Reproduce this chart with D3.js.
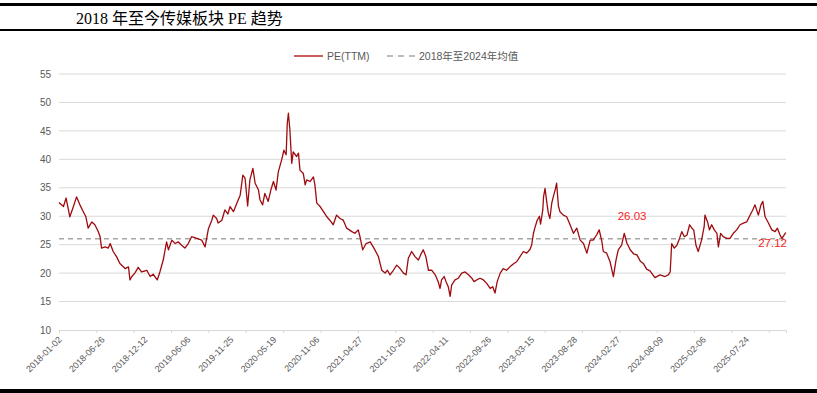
<!DOCTYPE html>
<meta charset="utf-8">
<script src="https://d3js.org/d3.v7.min.js"></script>
<style>
  body { margin: 0; background: #fff; }
  svg text { font-family: "Liberation Sans", Arial, "Noto Sans CJK SC", sans-serif; }
</style>
<div id="chart"></div>
<script>
// x axis: trading-day index, a label every 115 days, a tick mark every 100
var labelDates = ["2018-01-02","2018-06-26","2018-12-12","2019-06-06","2019-11-25",
  "2020-05-19","2020-11-06","2021-04-27","2021-10-20","2022-04-11","2022-09-26",
  "2023-03-15","2023-08-28","2024-02-27","2024-08-09","2025-02-06","2025-07-24"];
var labelStep = 115, tickStep = 100, lastDay = 1946;
var yTicks = [10, 15, 20, 25, 30, 35, 40, 45, 50, 55];

// PE(TTM): trading-day index and value
var dayIdx = [0,12,19,29,37,47,56,65,72,78,88,96,105,110,114,123,132,137,145,154,163,177,186,190,195,203,212,221,235,244,252,263,270,279,288,293,302,311,319,328,337,346,355,369,382,391,400,409,413,422,426,436,444,452,458,467,476,485,492,498,505,511,519,525,534,538,545,551,560,567,574,581,587,596,602,608,611,614,618,623,627,636,641,645,654,659,663,672,681,685,690,699,708,717,725,734,743,752,761,770,784,792,801,806,813,822,833,843,855,864,873,879,886,895,904,913,922,929,935,944,953,962,968,975,982,989,998,1007,1015,1020,1024,1031,1036,1042,1047,1051,1060,1069,1078,1087,1096,1105,1111,1118,1127,1136,1145,1154,1161,1167,1173,1181,1189,1198,1207,1216,1225,1234,1243,1252,1261,1265,1270,1274,1280,1286,1289,1295,1297,1301,1306,1310,1314,1319,1323,1328,1332,1337,1341,1350,1359,1368,1377,1386,1395,1404,1413,1422,1430,1439,1446,1453,1457,1466,1475,1484,1491,1497,1506,1513,1520,1529,1538,1547,1556,1564,1573,1582,1595,1609,1622,1631,1636,1640,1647,1654,1661,1667,1674,1681,1688,1694,1699,1705,1711,1720,1727,1729,1736,1741,1747,1754,1761,1765,1771,1778,1787,1796,1805,1814,1823,1832,1841,1850,1857,1863,1872,1879,1884,1890,1899,1908,1917,1923,1930,1935,1944,1946];
var peVals = [32.4,31.7,33.2,29.9,31.4,33.4,32.0,30.8,29.9,27.9,29.0,28.5,27.3,26.4,24.4,24.6,24.4,25.2,23.8,22.9,21.7,20.8,21.1,18.8,19.4,20.0,21.0,20.2,20.5,19.4,19.8,18.8,20.2,22.3,25.5,24.1,25.8,25.2,25.5,24.9,24.4,25.2,26.4,26.1,25.8,24.6,27.8,29.3,30.2,29.6,28.8,29.3,31.1,30.4,31.7,30.8,32.3,33.7,37.2,36.7,31.8,36.4,38.4,35.8,34.6,32.9,32.0,34.0,32.6,34.6,36.1,34.6,37.8,39.9,41.6,40.8,46.3,48.1,45.2,39.3,41.3,40.5,41.1,38.1,37.5,35.5,36.4,36.1,36.9,35.5,32.3,31.7,30.8,29.9,29.3,28.5,30.2,29.6,29.3,27.9,27.3,27.0,27.6,26.3,24.1,25.2,25.5,24.4,22.9,20.5,20.0,20.5,19.7,20.5,21.4,20.8,20.0,19.7,22.6,23.8,22.9,22.3,23.2,24.1,22.9,20.5,20.5,19.7,18.5,17.3,18.8,19.4,18.5,17.6,15.9,17.9,18.8,19.1,20.0,20.2,19.7,19.1,18.5,18.8,19.1,18.8,18.2,17.3,17.6,16.5,18.5,20.0,20.8,20.5,21.1,21.6,22.0,22.9,23.8,23.5,24.2,24.9,27.0,28.0,29.3,30.0,28.6,31.1,33.4,34.9,32.3,30.5,29.6,32.3,33.4,34.6,35.8,31.7,30.8,30.2,29.9,28.5,27.0,27.9,25.8,25.2,23.5,25.8,25.8,26.7,27.6,25.6,23.8,23.5,22.0,19.4,22.3,24.1,24.9,27.0,25.3,24.1,23.4,23.2,22.1,21.7,20.7,20.4,19.2,19.7,19.4,19.7,20.2,25.2,24.4,24.9,26.1,27.3,26.4,26.7,28.5,27.9,27.6,24.9,23.8,25.8,28.2,30.2,29.0,27.6,28.5,27.6,27.0,24.6,27.0,26.4,26.1,26.1,27.0,27.6,28.5,28.8,29.0,30.2,31.1,32.0,30.2,32.0,32.6,29.9,28.8,27.6,27.3,27.9,26.7,26.1,27.0,27.12];
var meanPE = 26.03;   // 2018-2024 average
var lastPE = 27.12;

var W = 817, H = 393;
var margin = {top: 74, right: 31, bottom: 63, left: 59},
    width = W - margin.left - margin.right,
    height = H - margin.top - margin.bottom;

var svg = d3.select("#chart").append("svg")
  .attr("width", W).attr("height", H);

// frame lines and title
svg.append("rect").attr("x", 0).attr("y", 3).attr("width", W).attr("height", 3).attr("fill", "#000");
svg.append("rect").attr("x", 0).attr("y", 29).attr("width", W).attr("height", 2).attr("fill", "#000");
svg.append("rect").attr("x", 0).attr("y", 389).attr("width", W).attr("height", 4).attr("fill", "#000");
svg.append("text")
  .attr("x", 76).attr("y", 24)
  .style("font-family", "'Liberation Serif', 'Times New Roman', 'Noto Sans CJK SC', serif")
  .style("font-size", "16px").attr("fill", "#000")
  .text("2018 年至今传媒板块 PE 趋势");

var g = svg.append("g")
  .attr("transform", "translate(" + margin.left + "," + margin.top + ")");

var x = d3.scaleLinear().domain([0, lastDay]).range([0, width]);
var y = d3.scaleLinear().domain([10, 55]).range([height, 0]);

// grid
g.append("g").selectAll("line")
  .data(yTicks.slice(1))
  .enter().append("line")
    .attr("x1", 0).attr("x2", width)
    .attr("y1", function(d) { return y(d); })
    .attr("y2", function(d) { return y(d); })
    .attr("stroke", "#d9d9d9").attr("stroke-width", 1);

// Y axis labels
var yAxis = g.append("g")
  .call(d3.axisLeft(y).tickValues(yTicks).tickSize(0).tickPadding(8));
yAxis.select(".domain").remove();
yAxis.selectAll("text").attr("fill", "#595959").style("font-size", "10px");

// X axis
var xAxis = g.append("g")
  .attr("transform", "translate(0," + height + ")")
  .call(d3.axisBottom(x).tickValues(d3.range(0, lastDay, tickStep)).tickSize(3).tickFormat(""));
xAxis.select(".domain").attr("stroke", "#d9d9d9");
xAxis.selectAll(".tick line").attr("stroke", "#d9d9d9");

g.append("g").selectAll("text")
  .data(labelDates)
  .enter().append("text")
    .attr("transform", function(d, i) {
      return "translate(" + (x(i * labelStep) + 1) + "," + (height + 8) + ") rotate(-45)";
    })
    .attr("text-anchor", "end")
    .attr("dy", "0.35em")
    .attr("fill", "#595959")
    .style("font-size", "9px")
    .text(function(d) { return d; });

// mean line
g.append("line")
  .attr("x1", 0).attr("x2", width)
  .attr("y1", y(meanPE)).attr("y2", y(meanPE))
  .attr("stroke", "#a6a6a6").attr("stroke-width", 1.5)
  .attr("stroke-dasharray", "5,4");

// PE line
var pts = dayIdx.map(function(d, i) { return [d, peVals[i]]; });
g.append("path")
  .datum(pts)
  .attr("fill", "none")
  .attr("stroke", "#9e0b0f")
  .attr("stroke-width", 1.3)
  .attr("stroke-linejoin", "round")
  .attr("d", d3.line()
    .x(function(d) { return x(d[0]); })
    .y(function(d) { return y(d[1]); }));

// annotations
g.append("text")
  .attr("x", x(1534)).attr("y", y(meanPE) - 19)
  .attr("text-anchor", "middle")
  .attr("fill", "#f52222").style("font-size", "11.5px")
  .text(meanPE.toFixed(2));
g.append("text")
  .attr("x", x(lastDay) + 1).attr("y", y(lastPE) + 14)
  .attr("text-anchor", "end")
  .attr("fill", "#f52222").style("font-size", "11.5px")
  .text(lastPE.toFixed(2));

// legend
var lg = svg.append("g");
lg.append("line").attr("x1", 294).attr("x2", 323).attr("y1", 56).attr("y2", 56)
  .attr("stroke", "#b52a2a").attr("stroke-width", 1.5);
lg.append("text").attr("x", 327).attr("y", 59.5)
  .attr("fill", "#595959").style("font-size", "10.5px").text("PE(TTM)");
lg.append("line").attr("x1", 387).attr("x2", 415).attr("y1", 56).attr("y2", 56)
  .attr("stroke", "#a6a6a6").attr("stroke-width", 1.5).attr("stroke-dasharray", "6,5");
lg.append("text").attr("x", 419).attr("y", 59.5)
  .attr("fill", "#595959").style("font-size", "10.5px").text("2018年至2024年均值");
</script>
